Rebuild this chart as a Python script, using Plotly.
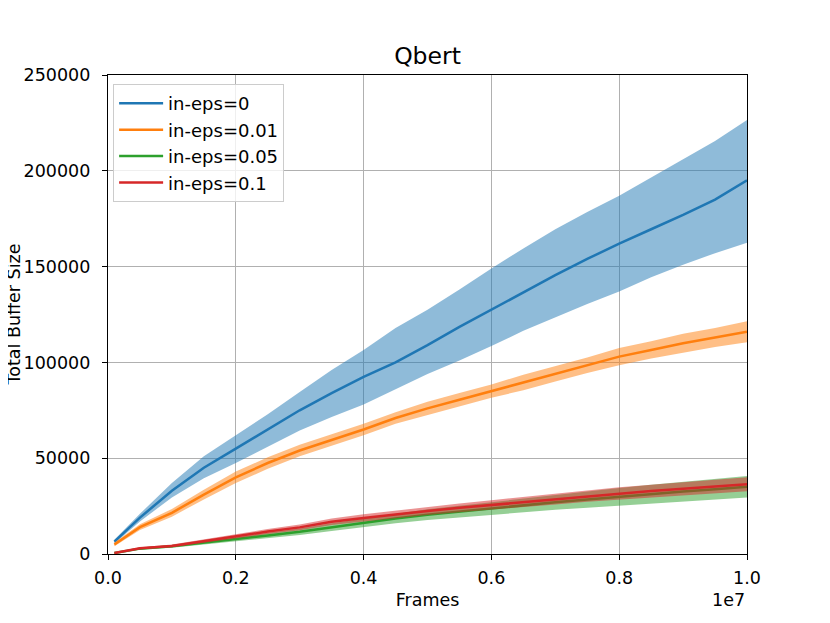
import plotly.graph_objects as go

# frames at which the curves were read (x axis, in frames)
frames = [100000, 500000, 1000000, 1500000, 2000000, 2500000, 3000000, 3500000,
          4000000, 4500000, 5000000, 5500000, 6000000, 6500000, 7000000, 7500000,
          8000000, 8500000, 9000000, 9500000, 10000000]

# in-eps=0
eps0_mean = [6500, 19000, 33000, 45000, 55000, 65000, 75000, 84000, 92500, 100000,
             109000, 118500, 127500, 136500, 145500, 154000, 162000, 169500, 177000,
             185000, 195000]
eps0_low = [5500, 17000, 29500, 39500, 47500, 56000, 64500, 71500, 78000, 86000,
            94000, 101000, 108500, 116500, 123500, 130500, 137000, 144500, 151000,
            157000, 162500]
eps0_high = [7500, 21000, 37000, 51000, 62000, 73000, 84500, 96000, 106500, 118000,
             127500, 138000, 149000, 159500, 169500, 178500, 187000, 196500, 206000,
             215500, 226500]

# in-eps=0.01
eps001_mean = [5000, 14000, 21500, 31000, 40000, 47500, 54000, 59500, 65000, 71000,
               76000, 80500, 85000, 89500, 94000, 98500, 103000, 106500, 110000,
               113000, 116000]
eps001_low = [4000, 12500, 19500, 28500, 37000, 44500, 51000, 56500, 62000, 68000,
              72500, 77000, 81500, 85500, 90000, 94500, 98500, 102000, 105000,
              108000, 110500]
eps001_high = [6000, 15500, 23500, 33500, 43000, 50500, 57000, 62500, 68000, 74000,
               79500, 84000, 88500, 93500, 98000, 102500, 107500, 111000, 115000,
               118000, 121500]

# in-eps=0.05
eps005_mean = [500, 2800, 4000, 6000, 7700, 9700, 11600, 14000, 16300, 18500, 20500,
               22200, 23800, 25400, 27000, 28400, 29900, 31300, 32600, 33800, 35100]
eps005_low = [300, 2300, 3300, 5000, 6500, 8200, 9900, 12000, 14100, 16000, 17700,
              19200, 20500, 21800, 23100, 24200, 25400, 26500, 27500, 28500, 29500]
eps005_high = [700, 3300, 4700, 7000, 8900, 11200, 13300, 16000, 18500, 21000, 23300,
               25200, 27100, 29000, 30900, 32600, 34400, 36100, 37700, 39100, 40700]

# in-eps=0.1
eps01_mean = [500, 3000, 4200, 6800, 9400, 11700, 13900, 16800, 18800, 20700, 22500,
              24100, 25600, 27200, 28700, 30200, 31700, 32900, 34000, 35200, 36400]
eps01_low = [300, 2500, 3500, 5900, 8300, 10400, 12400, 15100, 16900, 18700, 20300,
             21800, 23100, 24600, 25900, 27300, 28600, 29700, 30600, 31700, 32800]
eps01_high = [700, 3500, 4900, 7700, 10500, 13000, 15400, 18500, 20700, 22700, 24700,
              26400, 28100, 29800, 31500, 33100, 34800, 36100, 37400, 38700, 40000]

labels = ["in-eps=0", "in-eps=0.01", "in-eps=0.05", "in-eps=0.1"]
means = [eps0_mean, eps001_mean, eps005_mean, eps01_mean]
lows = [eps0_low, eps001_low, eps005_low, eps01_low]
highs = [eps0_high, eps001_high, eps005_high, eps01_high]
colors = ["#1f77b4", "#ff7f0e", "#2ca02c", "#d62728"]
bands = ["rgba(31,119,180,0.5)", "rgba(255,127,14,0.5)",
         "rgba(44,160,44,0.5)", "rgba(214,39,40,0.5)"]

x_ticks = [0, 2000000, 4000000, 6000000, 8000000, 10000000]
x_ticktext = ["0.0", "0.2", "0.4", "0.6", "0.8", "1.0"]
y_ticks = [0, 50000, 100000, 150000, 200000, 250000]

font = "DejaVu Sans, Arial, sans-serif"

fig = go.Figure()

for name, m, lo, hi, c, b in zip(labels, means, lows, highs, colors, bands):
    fig.add_trace(go.Scatter(x=frames + frames[::-1], y=hi + lo[::-1],
                             fill="toself", fillcolor=b, line=dict(width=0),
                             mode="lines", showlegend=False, hoverinfo="skip"))
    fig.add_trace(go.Scatter(x=frames, y=m, mode="lines", name=name,
                             line=dict(color=c, width=2.5)))

# page body adds 8px, so margins are shifted to keep the plot box in place
fig.update_layout(
    width=830, height=623,
    margin=dict(l=100, r=91, t=67, b=77),
    paper_bgcolor="white", plot_bgcolor="white",
    font=dict(family=font, size=17.5, color="black"),
    title=dict(text="Qbert", x=0.5, xref="paper", xanchor="center",
               y=1 - 48 / 623, yanchor="middle", font=dict(size=23.5)),
    legend=dict(x=0.008, y=0.981, xanchor="left", yanchor="top",
                bgcolor="rgba(255,255,255,0.8)", bordercolor="#cccccc",
                borderwidth=1, font=dict(size=18), tracegroupgap=0,
                itemwidth=44),
    showlegend=True,
)

fig.update_xaxes(range=[0, 10000000], tickvals=x_ticks, ticktext=x_ticktext,
                 showgrid=True, gridcolor="#b0b0b0", gridwidth=1,
                 showline=True, linecolor="black", linewidth=1.2, mirror=True,
                 ticks="outside", ticklen=5, tickcolor="black", zeroline=False,
                 ticklabelstandoff=3,
                 title=dict(text="Frames", standoff=6, font=dict(size=17.5)))
fig.update_yaxes(range=[0, 250000], tickvals=y_ticks,
                 ticktext=[str(v) for v in y_ticks],
                 showgrid=True, gridcolor="#b0b0b0", gridwidth=1,
                 showline=True, linecolor="black", linewidth=1.2, mirror=True,
                 ticks="outside", ticklen=5, tickcolor="black", zeroline=False,
                 ticklabelstandoff=8)

# y label sits at the very left edge, as in the original
fig.add_annotation(text="Total Buffer Size", textangle=-90, xref="paper", yref="paper",
                   x=(5 - 100) / 639, y=0.5, xanchor="center", yanchor="middle",
                   showarrow=False, font=dict(size=17.5))
# offset text for the x axis
fig.add_annotation(text="1e7", xref="paper", yref="paper", x=1.0, y=-46 / 479,
                   xanchor="right", yanchor="middle", showarrow=False,
                   font=dict(size=17.5))

fig.write_html("out.html")
